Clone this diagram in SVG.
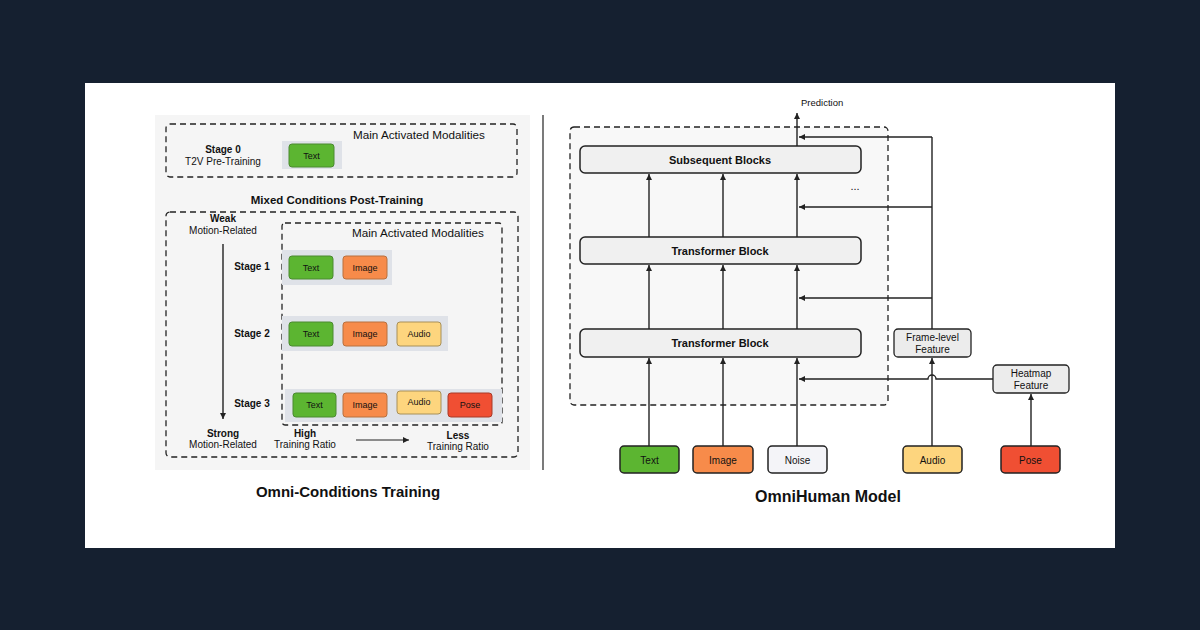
<svg xmlns="http://www.w3.org/2000/svg" width="1200" height="630" viewBox="0 0 1200 630">
<style>
text{font-family:"Liberation Sans",Arial,sans-serif;fill:#111}
.b{font-weight:bold}
.dash{fill:none;stroke:#222;stroke-width:1.3;stroke-dasharray:6,4}
.hl{fill:#dfe2e8}
.ln{stroke:#222;stroke-width:1.4;fill:none}
.blk{fill:#f0f0f0;stroke:#222;stroke-width:1.5}
.in{stroke:#222;stroke-width:1.5}
.mt{font-size:9px;text-anchor:middle}
.rt{font-size:10px;text-anchor:middle}
</style>
<defs>
<marker id="ah" markerWidth="8" markerHeight="8" refX="6" refY="3" orient="auto" markerUnits="userSpaceOnUse">
<path d="M0,0 L6,3 L0,6 Z" fill="#222"/>
</marker>
</defs>
<rect x="0" y="0" width="1200" height="630" fill="#152030"/>
<rect x="85" y="83" width="1030" height="465" fill="#ffffff"/>

<!-- Left panel -->
<g id="left-panel">
<rect x="155" y="115" width="375" height="355" fill="#f5f5f5"/>
<line x1="543" y1="115" x2="543" y2="470" stroke="#333" stroke-width="1.3"/>
</g>

<g id="stage0">
<rect class="dash" x="166" y="124" width="351" height="53" rx="4"/>
<text x="353" y="139" font-size="11.7">Main Activated Modalities</text>
<text class="b" x="223" y="153" font-size="10" text-anchor="middle">Stage 0</text>
<text x="223" y="165" font-size="10" text-anchor="middle">T2V Pre-Training</text>
<rect class="hl" x="282" y="141" width="60" height="28"/>
<rect x="289" y="144" width="45" height="23" rx="3" fill="#5cb531" stroke="#4a8a30"/>
<text class="mt" x="311.5" y="159">Text</text>
</g>

<text class="b" x="337" y="204" font-size="11.5" text-anchor="middle">Mixed Conditions Post-Training</text>

<g id="post-training">
<rect class="dash" x="166" y="212" width="352" height="245" rx="4"/>
<rect class="dash" x="282" y="223" width="220" height="202" rx="3"/>
<text x="352" y="237" font-size="11.7">Main Activated Modalities</text>
<text class="b" x="223" y="222" font-size="10" text-anchor="middle">Weak</text>
<text x="223" y="234" font-size="10" text-anchor="middle">Motion-Related</text>
<text class="b" x="223" y="437" font-size="10" text-anchor="middle">Strong</text>
<text x="223" y="448" font-size="10" text-anchor="middle">Motion-Related</text>
<text class="b" x="305" y="437" font-size="10" text-anchor="middle">High</text>
<text x="305" y="448" font-size="10" text-anchor="middle">Training Ratio</text>
<text class="b" x="458" y="439" font-size="10" text-anchor="middle">Less</text>
<text x="458" y="450" font-size="10" text-anchor="middle">Training Ratio</text>
</g>

<g id="stage1">
<text class="b" x="252" y="270" font-size="10" text-anchor="middle">Stage 1</text>
<rect class="hl" x="282" y="250" width="110" height="35"/>
<rect x="289" y="256" width="44" height="23" rx="3" fill="#5cb531" stroke="#4a8a30"/>
<text class="mt" x="311" y="270.5">Text</text>
<rect x="343" y="256" width="44" height="23" rx="3" fill="#f78b4a" stroke="#b8703e"/>
<text class="mt" x="365" y="270.5">Image</text>
</g>

<g id="stage2">
<text class="b" x="252" y="337" font-size="10" text-anchor="middle">Stage 2</text>
<rect class="hl" x="282" y="316" width="166" height="35"/>
<rect x="289" y="322" width="44" height="24" rx="3" fill="#5cb531" stroke="#4a8a30"/>
<text class="mt" x="311" y="337">Text</text>
<rect x="343" y="322" width="44" height="24" rx="3" fill="#f78b4a" stroke="#b8703e"/>
<text class="mt" x="365" y="337">Image</text>
<rect x="397" y="322" width="44" height="24" rx="3" fill="#fdd57e" stroke="#a89058"/>
<text class="mt" x="419" y="337">Audio</text>
</g>

<g id="stage3">
<text class="b" x="252" y="407" font-size="10" text-anchor="middle">Stage 3</text>
<rect class="hl" x="285" y="389" width="217" height="33"/>
<rect x="293" y="393" width="43" height="24" rx="3" fill="#5cb531" stroke="#4a8a30"/>
<text class="mt" x="314.5" y="408">Text</text>
<rect x="343" y="393" width="44" height="24" rx="3" fill="#f78b4a" stroke="#b8703e"/>
<text class="mt" x="365" y="408">Image</text>
<rect x="397" y="391" width="44" height="23" rx="3" fill="#fdd57e" stroke="#a89058"/>
<text class="mt" x="419" y="405">Audio</text>
<rect x="448" y="393" width="44" height="24" rx="3" fill="#f04f33" stroke="#a83a28"/>
<text class="mt" x="470" y="408">Pose</text>
</g>

<g id="left-connectors">
<line class="ln" x1="223" y1="244" x2="223" y2="419" marker-end="url(#ah)"/>
<line x1="356" y1="440" x2="409" y2="440" stroke="#222" stroke-width="1" marker-end="url(#ah)"/>
</g>

<text class="b" x="348" y="497" font-size="15" text-anchor="middle">Omni-Conditions Training</text>

<!-- Right panel -->
<g id="model-frame">
<rect x="570" y="127" width="318" height="278" rx="4" fill="#f8f8f8" stroke="#222" stroke-width="1.3" stroke-dasharray="6,4"/>
</g>

<g id="subsequent">
<rect class="blk" x="580" y="146" width="281" height="27" rx="5"/>
<text class="b" x="720" y="164" font-size="11" text-anchor="middle">Subsequent Blocks</text>
</g>
<g id="tblock1">
<rect class="blk" x="580" y="237" width="281" height="27" rx="5"/>
<text class="b" x="720" y="255" font-size="11" text-anchor="middle">Transformer Block</text>
</g>
<g id="tblock2">
<rect class="blk" x="580" y="329" width="281" height="28" rx="5"/>
<text class="b" x="720" y="347" font-size="11" text-anchor="middle">Transformer Block</text>
</g>
<text x="855" y="190" font-size="11" text-anchor="middle">...</text>
<text x="801" y="106" font-size="9.5">Prediction</text>

<g id="frame-level">
<rect x="894" y="329" width="77" height="28" rx="4" fill="#ececec" stroke="#222" stroke-width="1.3"/>
<text class="rt" x="932.5" y="341">Frame-level</text>
<text class="rt" x="932.5" y="353">Feature</text>
</g>
<g id="heatmap">
<rect x="993" y="365" width="76" height="28" rx="4" fill="#ececec" stroke="#222" stroke-width="1.3"/>
<text class="rt" x="1031" y="377">Heatmap</text>
<text class="rt" x="1031" y="389">Feature</text>
</g>

<g id="in-text"><rect class="in" x="620" y="446" width="59" height="27" rx="4" fill="#5cb531"/><text class="rt" x="649.5" y="463.5">Text</text></g>
<g id="in-image"><rect class="in" x="693" y="446" width="60" height="27" rx="4" fill="#f78b4a"/><text class="rt" x="723" y="463.5">Image</text></g>
<g id="in-noise"><rect class="in" x="768" y="446" width="59" height="27" rx="4" fill="#f4f4f8"/><text class="rt" x="797.5" y="463.5">Noise</text></g>
<g id="in-audio"><rect class="in" x="903" y="446" width="59" height="27" rx="4" fill="#fdd57e"/><text class="rt" x="932.5" y="463.5">Audio</text></g>
<g id="in-pose"><rect class="in" x="1001" y="446" width="59" height="27" rx="4" fill="#f04f33"/><text class="rt" x="1030.5" y="463.5">Pose</text></g>

<g id="connectors">
<line class="ln" x1="649" y1="446" x2="649" y2="358" marker-end="url(#ah)"/>
<line class="ln" x1="723" y1="446" x2="723" y2="358" marker-end="url(#ah)"/>
<line class="ln" x1="797" y1="446" x2="797" y2="358" marker-end="url(#ah)"/>
<line class="ln" x1="649" y1="329" x2="649" y2="265" marker-end="url(#ah)"/>
<line class="ln" x1="723" y1="329" x2="723" y2="265" marker-end="url(#ah)"/>
<line class="ln" x1="797" y1="329" x2="797" y2="265" marker-end="url(#ah)"/>
<line class="ln" x1="649" y1="237" x2="649" y2="174" marker-end="url(#ah)"/>
<line class="ln" x1="723" y1="237" x2="723" y2="174" marker-end="url(#ah)"/>
<line class="ln" x1="797" y1="237" x2="797" y2="174" marker-end="url(#ah)"/>
<line class="ln" x1="797" y1="146" x2="797" y2="113" marker-end="url(#ah)"/>
<path class="ln" d="M932,329 V137"/>
<line class="ln" x1="932" y1="137" x2="799" y2="137" marker-end="url(#ah)"/>
<line class="ln" x1="932" y1="207" x2="799" y2="207" marker-end="url(#ah)"/>
<line class="ln" x1="932" y1="298" x2="799" y2="298" marker-end="url(#ah)"/>
<line class="ln" x1="932" y1="446" x2="932" y2="358" marker-end="url(#ah)"/>
<path class="ln" d="M993,379 H936 A4,4 0 0 0 928,379 H799" marker-end="url(#ah)"/>
<line class="ln" x1="1031" y1="446" x2="1031" y2="394" marker-end="url(#ah)"/>
</g>

<text class="b" x="828" y="502" font-size="16" text-anchor="middle">OmniHuman Model</text>
</svg>
